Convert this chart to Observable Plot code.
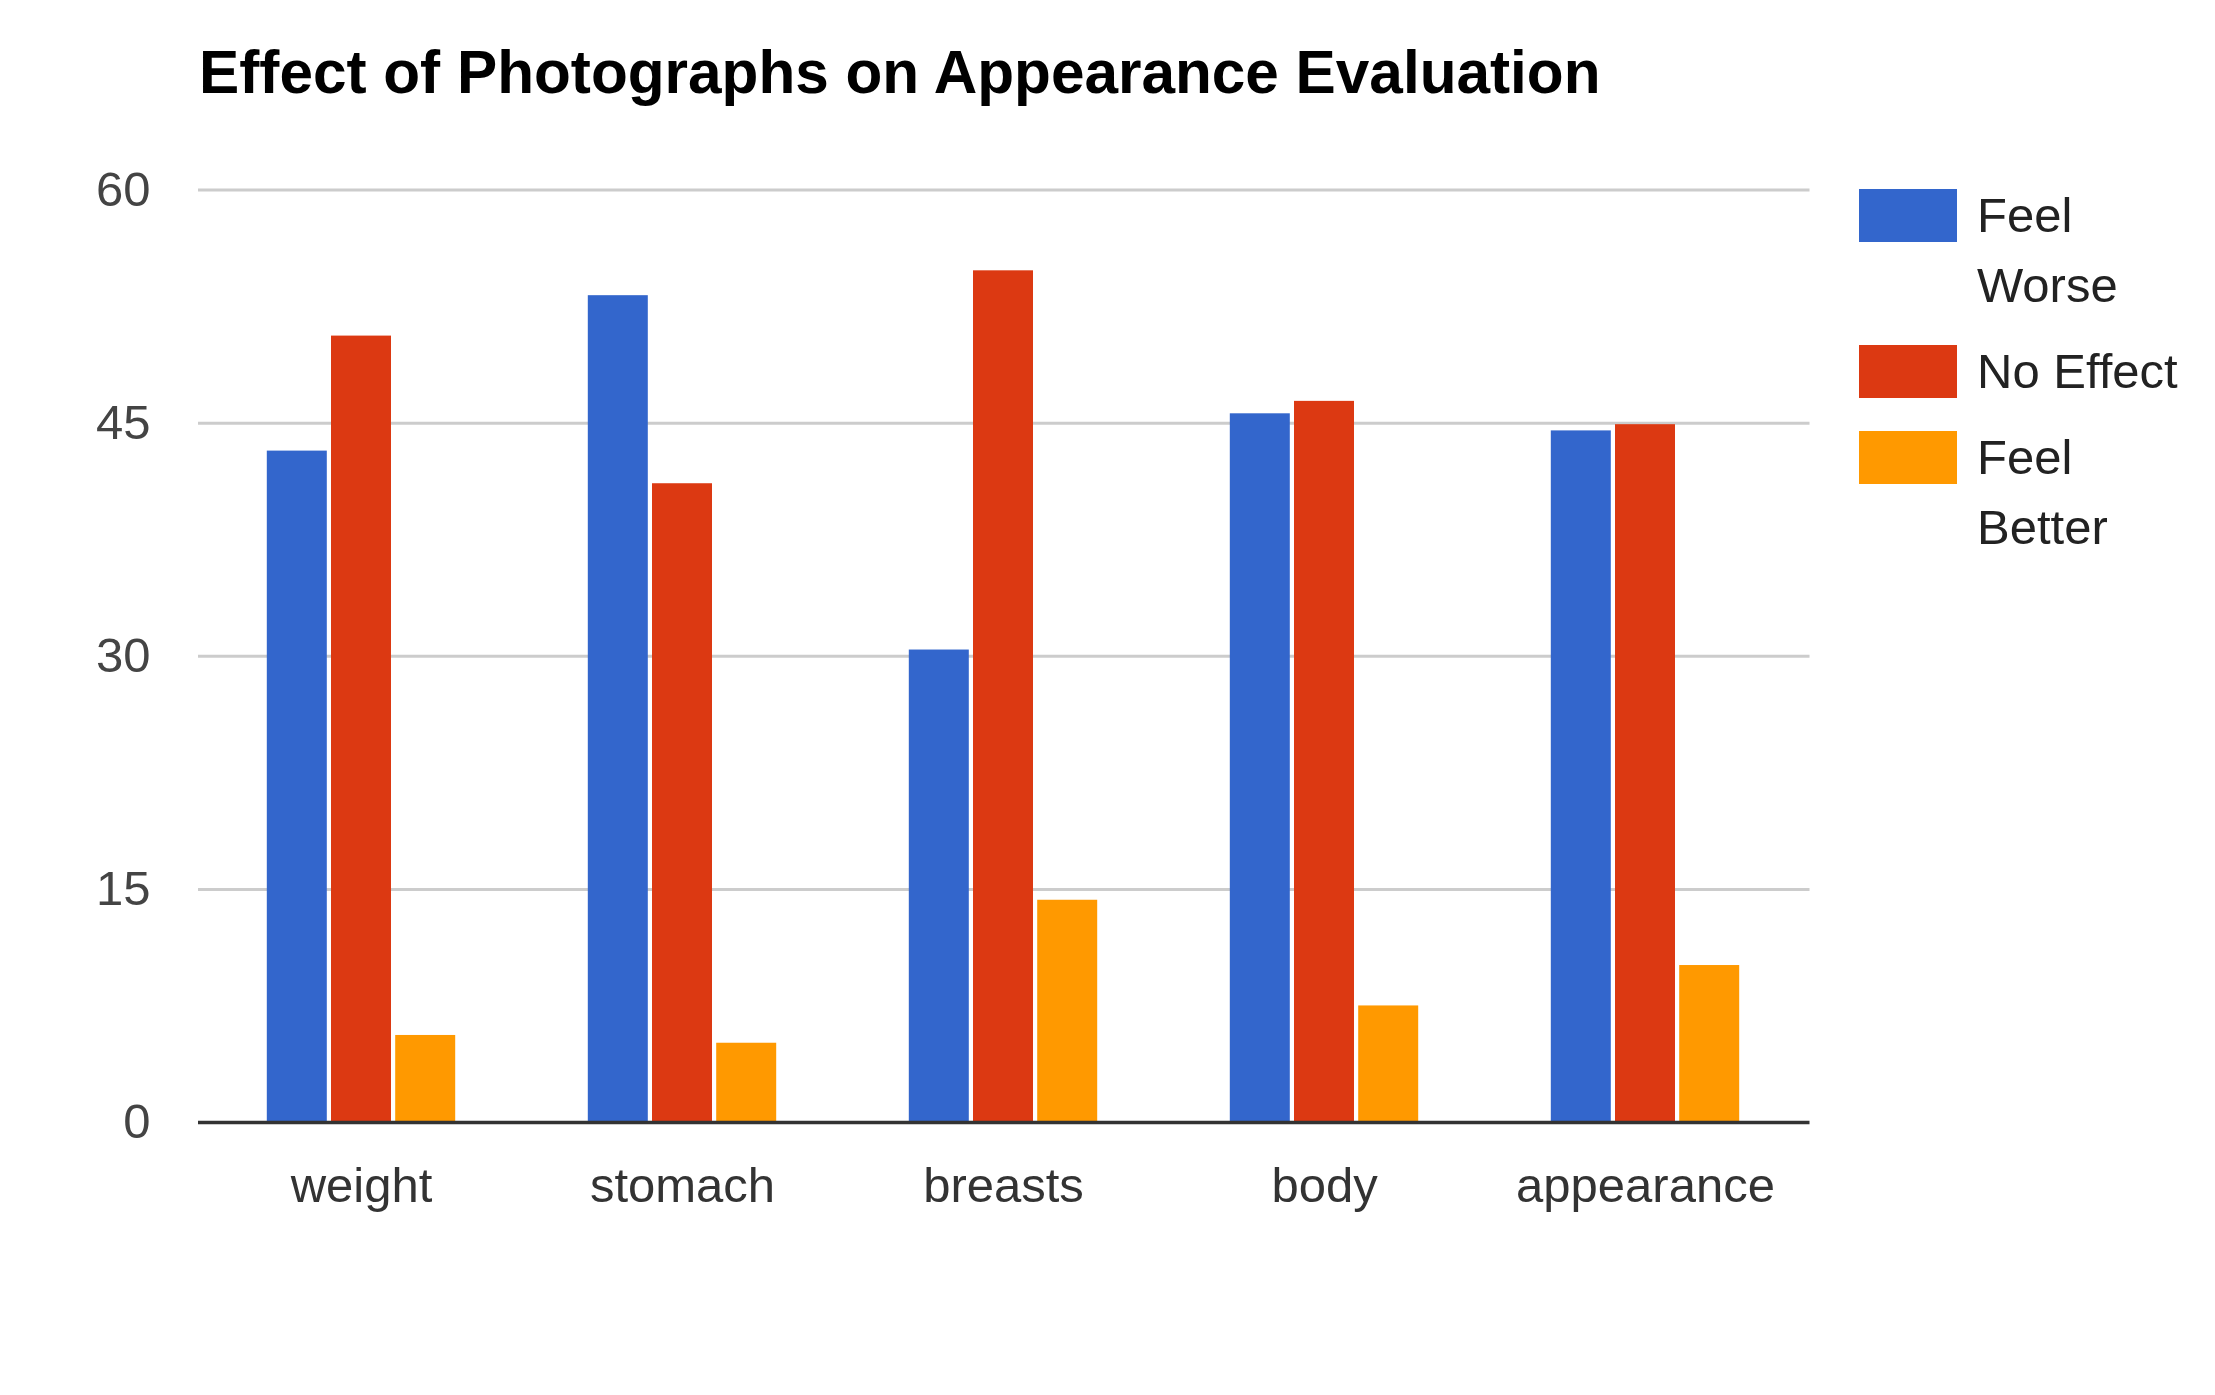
<!DOCTYPE html>
<html>
<head>
<meta charset="utf-8">
<script src="https://cdn.jsdelivr.net/npm/d3@7"></script>
<script src="https://cdn.jsdelivr.net/npm/@observablehq/plot@0.6"></script>
<style>
  html, body { margin: 0; padding: 0; background: #fff; }
  #page { position: relative; width: 2215px; height: 1395px; font-family: Arial, "Liberation Sans", sans-serif; }
  #title { position: absolute; left: 199px; top: 42px; font-size: 60.3px; line-height: 60px; font-weight: bold; color: #000; white-space: nowrap; }
  #chart { position: absolute; left: 0; top: 130px; }
  #legend { position: absolute; left: 1859px; top: 180px; }
  .item { display: flex; align-items: flex-start; margin-bottom: 16px; }
  .swatch { width: 98px; height: 53px; margin-top: 8.5px; flex: none; }
  .label { margin-left: 20px; font-size: 49px; line-height: 70px; color: #222; max-width: 215px; }
</style>
</head>
<body>
<div id="page">
  <div id="title"></div>
  <div id="chart"></div>
  <div id="legend"></div>
</div>
<script>
const title = "Effect of Photographs on Appearance Evaluation";
const categories = ["weight", "stomach", "breasts", "body", "appearance"];
const seriesNames = ["Feel Worse", "No Effect", "Feel Better"];
const seriesColors = ["#3366cc", "#dc3912", "#ff9900"];
const feelWorse = [43.2, 53.2, 30.4, 45.6, 44.5];
const noEffect = [50.6, 41.1, 54.8, 46.4, 44.9];
const feelBetter = [5.6, 5.1, 14.3, 7.5, 10.1];
const yTicks = [0, 15, 30, 45, 60];

document.getElementById("title").textContent = title;

const seriesValues = [feelWorse, noEffect, feelBetter];
const tables = seriesValues.map((vals, s) =>
  categories.map((c, i) => ({category: c, series: seriesNames[s], value: vals[i]}))
);

const offsets = [-64.2, 0, 64.2];
const barMarks = tables.map((t, s) =>
  Plot.barY(t, {x: "category", y: "value", fill: seriesColors[s], dx: offsets[s]})
);

const chart = Plot.plot({
  width: 1850,
  height: 1265,
  marginLeft: 198,
  marginRight: 40.5,
  marginTop: 59.5,
  marginBottom: 273,
  style: {fontFamily: 'Arial, "Liberation Sans", sans-serif', fontSize: "49px", background: "#fff"},
  x: {domain: categories, paddingInner: 0.813, paddingOuter: 0.4166, align: 0.496, axis: null},
  y: {domain: [0, 60], axis: null},
  marks: [
    Plot.ruleY(yTicks.filter(d => d > 0), {stroke: "#cccccc", strokeWidth: 3}),
    ...barMarks,
    Plot.ruleY([0], {stroke: "#333333", strokeWidth: 3.5}),
    Plot.axisY(yTicks, {tickSize: 0, tickPadding: 48, fontSize: 49, fill: "#444444", label: null}),
    Plot.axisX({tickSize: 0, tickPadding: 45, fontSize: 49, fill: "#333333", label: null})
  ]
});
document.getElementById("chart").appendChild(chart);

const legend = document.getElementById("legend");
seriesNames.forEach((name, i) => {
  const item = document.createElement("div");
  item.className = "item";
  const sw = document.createElement("div");
  sw.className = "swatch";
  sw.style.background = seriesColors[i];
  const lab = document.createElement("div");
  lab.className = "label";
  lab.textContent = name;
  item.appendChild(sw);
  item.appendChild(lab);
  legend.appendChild(item);
});
</script>
</body>
</html>
